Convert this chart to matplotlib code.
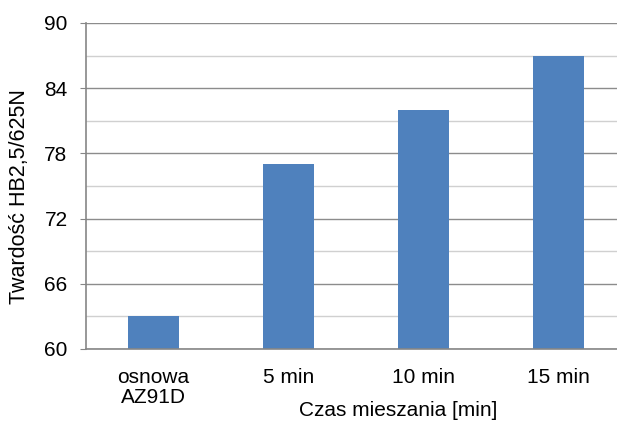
import matplotlib
matplotlib.use("Agg")
import matplotlib.pyplot as plt
import numpy as np

categories = ["osnowa\nAZ91D", "5 min", "10 min", "15 min"]
values = [63, 77, 82, 87]
yticks = [60, 66, 72, 78, 84, 90]
minor_ticks = [63, 69, 75, 81, 87]

plt.rcParams['font.family'] = ['Liberation Sans', 'DejaVu Sans']

W, H = 617, 421
fig = plt.figure(figsize=(W/100, H/100), dpi=100)
left, right, top, bottom = 86, 626, 23, 349
ax = fig.add_axes([left/W, 1-bottom/H, (right-left)/W, (bottom-top)/H])

FS = 15
x = np.arange(len(categories))
ax.bar(x, values, width=0.38, color="#4F81BD", zorder=3, bottom=0)
ax.set_xlim(-0.5, 3.5)
ax.set_ylim(60, 90)
ax.set_yticks(yticks)
ax.set_yticks(minor_ticks, minor=True)
ax.grid(axis='y', which='major', color='#8C8C8C', linewidth=1.0, zorder=0)
ax.grid(axis='y', which='minor', color='#D0D0D0', linewidth=1.0, zorder=0)
ax.tick_params(axis='y', which='minor', length=0)
ax.tick_params(axis='y', which='major', length=4.3, color='#868686', labelsize=FS, pad=9.0)
ax.set_xticks(x)
ax.set_xticklabels(categories, fontsize=FS, linespacing=1.05)
ax.tick_params(axis='x', length=0, pad=14)
for s in ['top', 'right']:
    ax.spines[s].set_visible(False)
for s in ['left', 'bottom']:
    ax.spines[s].set_color('#868686')
    ax.spines[s].set_linewidth(1.2)
ax.spines['bottom'].set_zorder(4)

fig.text(20/W, 1-197/H, "Twardość HB2,5/625N", fontsize=15.5, rotation=90,
         ha='center', va='center')
fig.text(398/W, 1-410/H, "Czas mieszania [min]", fontsize=FS, ha='center', va='center')

fig.savefig("out.png", dpi=100)
